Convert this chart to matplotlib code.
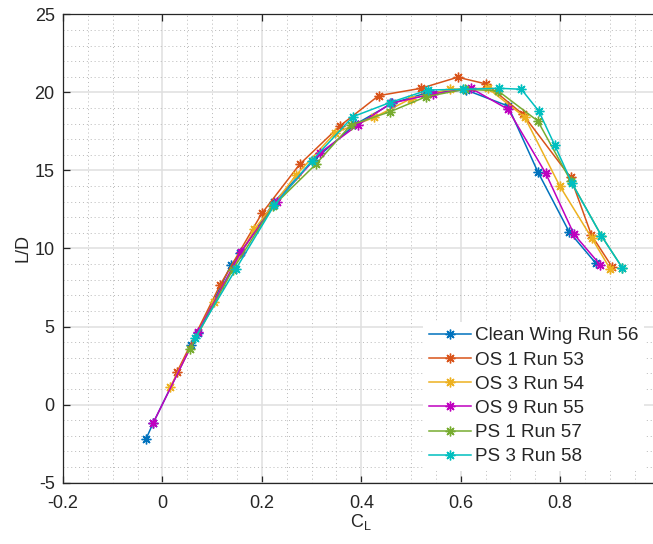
import matplotlib
matplotlib.use("Agg")
import matplotlib.pyplot as plt
from matplotlib.ticker import MultipleLocator

plt.rcParams['font.family'] = ['Liberation Sans', 'DejaVu Sans']

# Lift coefficient (CL) and lift-to-drag ratio (L/D) for each run
cl_clean56 = [-0.033, -0.019, 0.058, 0.072, 0.138, 0.157, 0.225, 0.305, 0.388, 0.462, 0.535, 0.611, 0.695, 0.755, 0.818, 0.872]
ld_clean56 = [-2.2, -1.2, 3.8, 4.6, 8.94, 9.7, 13.0, 15.67, 17.95, 19.3, 20.0, 20.15, 19.13, 14.92, 11.08, 9.05]

cl_os1_53 = [0.029, 0.116, 0.200, 0.276, 0.357, 0.435, 0.520, 0.594, 0.651, 0.725, 0.821, 0.863, 0.905]
ld_os1_53 = [2.07, 7.66, 12.25, 15.39, 17.85, 19.79, 20.26, 20.97, 20.54, 18.6, 14.56, 10.86, 8.8]

cl_os3_54 = [0.016, 0.104, 0.185, 0.269, 0.348, 0.426, 0.500, 0.578, 0.655, 0.729, 0.799, 0.864, 0.901]
ld_os3_54 = [1.15, 6.6, 11.23, 14.71, 17.42, 18.4, 19.6, 20.2, 20.26, 18.4, 14.02, 10.65, 8.67]

cl_os9_55 = [-0.019, 0.072, 0.158, 0.230, 0.316, 0.393, 0.460, 0.544, 0.621, 0.695, 0.771, 0.828, 0.881]
ld_os9_55 = [-1.2, 4.67, 9.8, 13.0, 16.1, 17.91, 19.3, 19.9, 20.26, 18.92, 14.82, 10.91, 8.94]

cl_ps1_57 = [0.055, 0.141, 0.222, 0.309, 0.379, 0.458, 0.530, 0.608, 0.675, 0.755, 0.822, 0.883, 0.925]
ld_ps1_57 = [3.54, 8.62, 12.7, 15.41, 17.91, 18.76, 19.72, 20.2, 20.1, 18.17, 14.3, 10.82, 8.77]

cl_ps3_58 = [0.065, 0.148, 0.225, 0.300, 0.383, 0.457, 0.534, 0.605, 0.678, 0.722, 0.757, 0.789, 0.824, 0.883, 0.925]
ld_ps3_58 = [4.25, 8.7, 12.77, 15.6, 18.44, 19.34, 20.15, 20.2, 20.26, 20.2, 18.81, 16.63, 14.17, 10.82, 8.77]

series_names = ['Clean Wing Run 56', 'OS 1 Run 53', 'OS 3 Run 54',
                'OS 9 Run 55', 'PS 1 Run 57', 'PS 3 Run 58']
series_cl = [cl_clean56, cl_os1_53, cl_os3_54, cl_os9_55, cl_ps1_57, cl_ps3_58]
series_ld = [ld_clean56, ld_os1_53, ld_os3_54, ld_os9_55, ld_ps1_57, ld_ps3_58]
series_colors = ['#0072BD', '#D95319', '#EDB120', '#BF00BF', '#77AC30', '#00BFBF']

x_ticks = [-0.2, 0.0, 0.2, 0.4, 0.6, 0.8]
x_tick_labels = ['-0.2', '0', '0.2', '0.4', '0.6', '0.8']
y_ticks = [-5, 0, 5, 10, 15, 20, 25]
y_tick_labels = ['-5', '0', '5', '10', '15', '20', '25']

fig = plt.figure(figsize=(6.53, 5.44), dpi=100)
# axes run slightly past the right edge of the canvas
ax = fig.add_axes([0.0965, 0.1127, 0.9135, 0.861])

asterisk = (8, 2, 0)
for cl, ld, name, col in zip(series_cl, series_ld, series_names, series_colors):
    ax.plot(cl, ld, color=col, lw=1.1, marker=asterisk, markersize=7,
            markeredgewidth=1.0, label=name)

ax.set_xlim(-0.2, 1.0)
ax.set_ylim(-5, 25)
ax.set_xticks(x_ticks)
ax.set_xticklabels(x_tick_labels)
ax.set_yticks(y_ticks)
ax.set_yticklabels(y_tick_labels)
ax.xaxis.set_minor_locator(MultipleLocator(0.05))
ax.yaxis.set_minor_locator(MultipleLocator(1))

ax.set_axisbelow(True)
ax.grid(which='major', color='#DFDFDF', lw=1.1, ls='-')
ax.grid(which='minor', color='#B8B8B8', lw=0.7, ls=(0, (1, 3)))

for sp in ax.spines.values():
    sp.set_color('#262626')
    sp.set_linewidth(0.9)
ax.tick_params(which='major', direction='in', length=5, width=0.9,
               color='#262626', labelsize=13, labelcolor='#262626',
               top=True, right=True)
ax.tick_params(axis='x', which='major', pad=9)
ax.tick_params(axis='y', which='major', pad=6)
ax.tick_params(which='minor', length=0, top=True, right=True)

ax.set_ylabel('L/D', fontsize=13, color='#262626', labelpad=2)
ax.set_xlabel(r'$\mathregular{C_L}$', fontsize=13, color='#262626', labelpad=0)

leg = ax.legend(loc='upper left', bbox_to_anchor=(0.648, 0.409),
                bbox_transform=fig.transFigure, fontsize=13.6,
                frameon=True, fancybox=False, edgecolor='none',
                facecolor='white', framealpha=1.0, borderpad=0.3,
                borderaxespad=0, labelspacing=0.37, handlelength=2.25,
                handletextpad=0.2)
for t in leg.get_texts():
    t.set_color('#262626')

fig.savefig('out.png', dpi=100)
